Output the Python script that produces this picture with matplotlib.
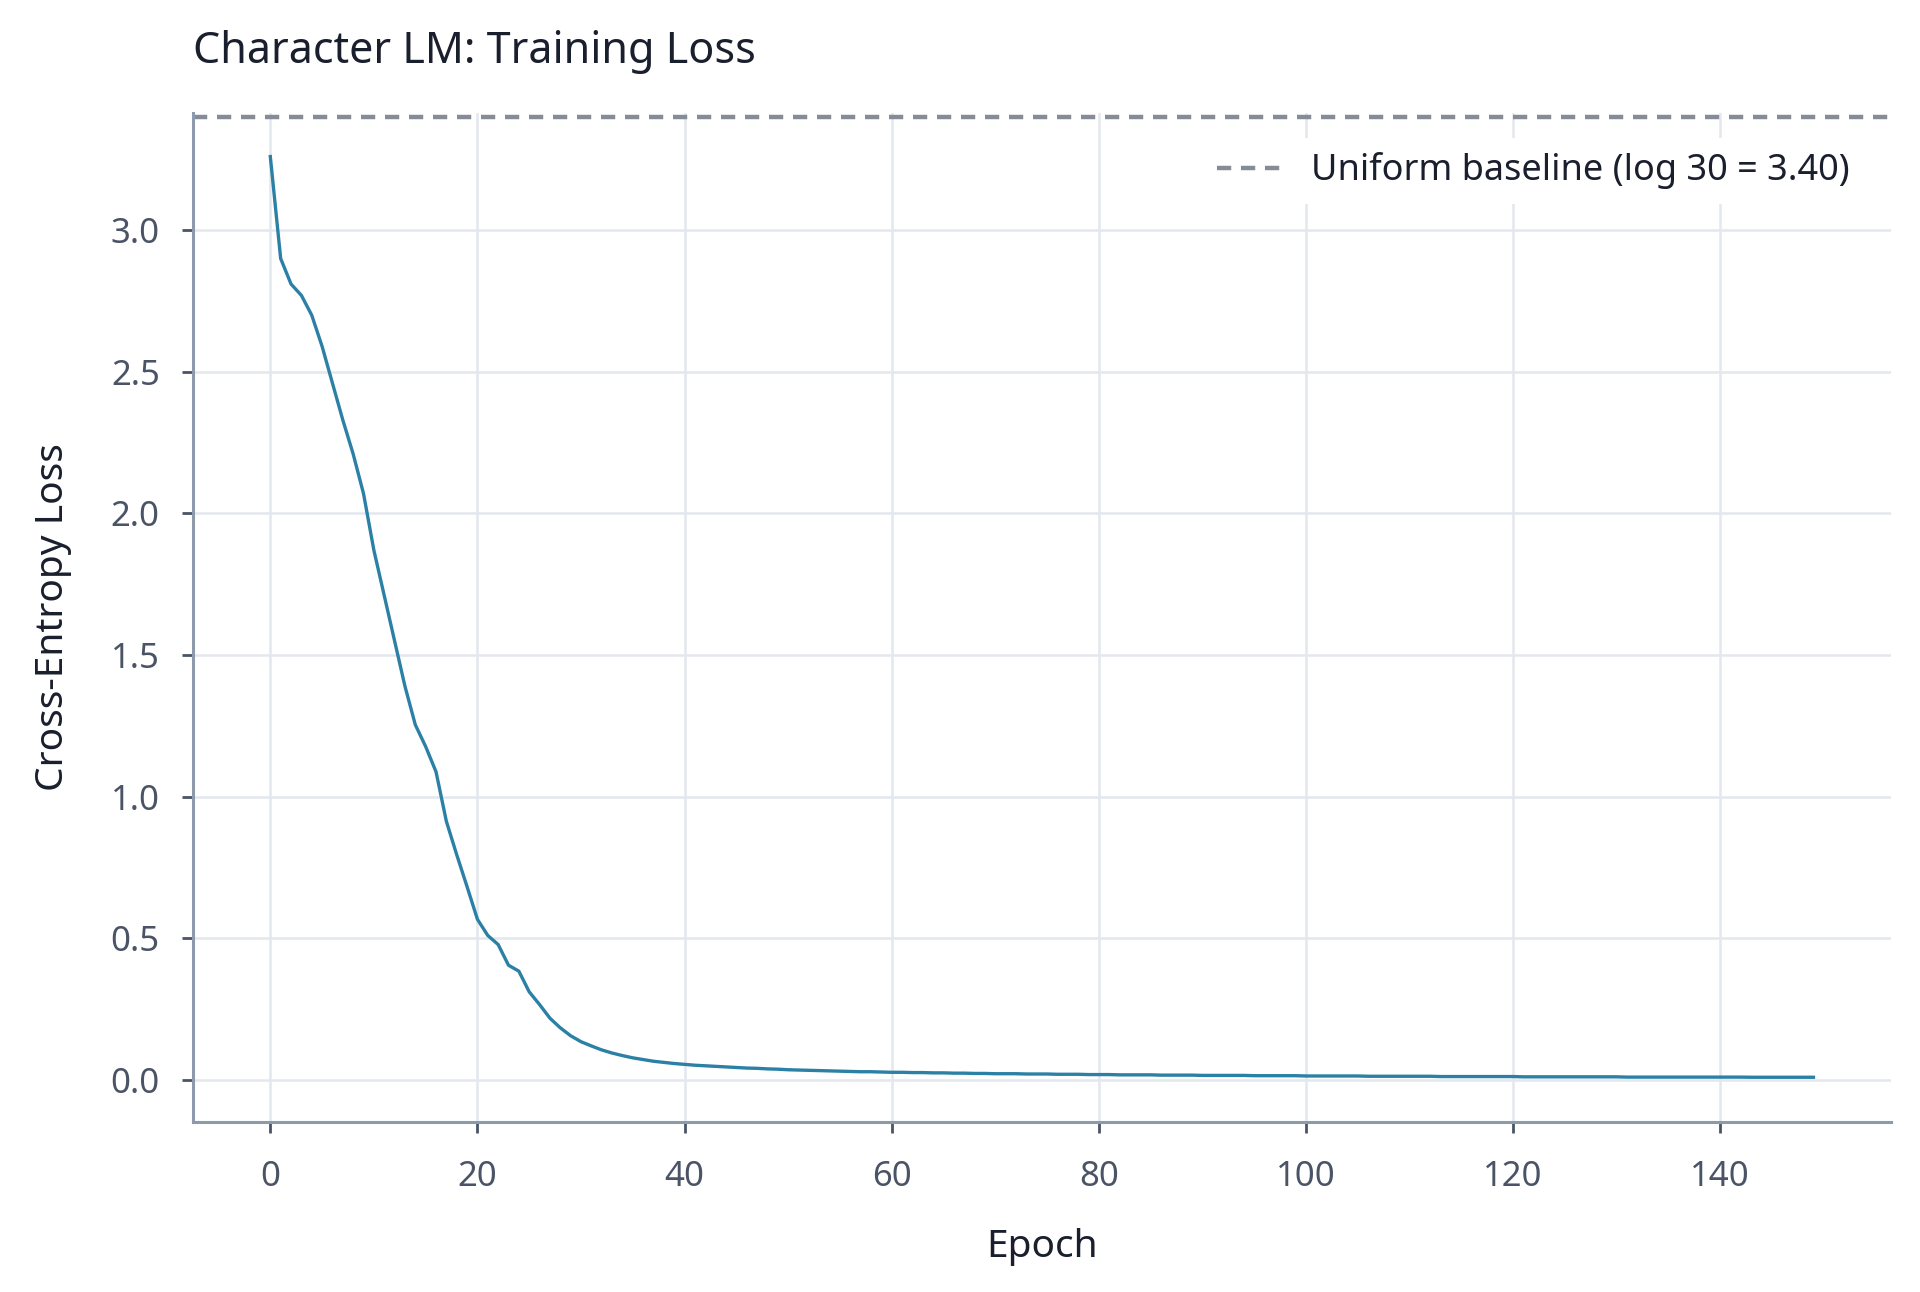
import numpy as np
import matplotlib
matplotlib.use('Agg')
import matplotlib.pyplot as plt

plt.rcParams['font.family'] = ['Noto Sans', 'DejaVu Sans']

# loss per epoch
loss_0_19 = [3.26, 2.90, 2.81, 2.77, 2.70, 2.59, 2.46, 2.33, 2.21, 2.07,
             1.87, 1.71, 1.55, 1.39, 1.254, 1.177, 1.088, 0.913, 0.795, 0.682]
loss_20_39 = [0.567, 0.510, 0.478, 0.405, 0.384, 0.311, 0.266, 0.218, 0.184, 0.156,
              0.135, 0.120, 0.106, 0.095, 0.086, 0.078, 0.072, 0.066, 0.062, 0.058]
loss_40_69 = [0.055, 0.052, 0.050, 0.048, 0.046, 0.044, 0.042, 0.041, 0.039, 0.038,
              0.036, 0.035, 0.034, 0.033, 0.032, 0.031, 0.030, 0.029, 0.029, 0.028,
              0.027, 0.027, 0.026, 0.026, 0.025, 0.025, 0.024, 0.024, 0.023, 0.023]
loss_70_109 = [0.022, 0.022, 0.022, 0.021, 0.021, 0.021, 0.020, 0.020, 0.020, 0.019,
               0.019, 0.019, 0.018, 0.018, 0.018, 0.018, 0.017, 0.017, 0.017, 0.017,
               0.016, 0.016, 0.016, 0.016, 0.016, 0.015, 0.015, 0.015, 0.015, 0.015,
               0.014, 0.014, 0.014, 0.014, 0.014, 0.014, 0.013, 0.013, 0.013, 0.013]
loss_110_149 = [0.013, 0.013, 0.013, 0.012, 0.012, 0.012, 0.012, 0.012, 0.012, 0.012,
                0.012, 0.011, 0.011, 0.011, 0.011, 0.011, 0.011, 0.011, 0.011, 0.011,
                0.011, 0.010, 0.010, 0.010, 0.010, 0.010, 0.010, 0.010, 0.010, 0.010,
                0.010, 0.010, 0.010, 0.0095, 0.0095, 0.0095, 0.0095, 0.0095, 0.0095, 0.0095]
loss = loss_0_19 + loss_20_39 + loss_40_69 + loss_70_109 + loss_110_149
epochs = np.arange(len(loss))
baseline = np.log(30)

fig = plt.figure(figsize=(9.6, 6.46), dpi=200)
ax = fig.add_axes([0.1006, 0.1319, 0.8841, 0.7809])

ax.plot(epochs, loss, color='#2b80a5', linewidth=1.2)
ax.axhline(baseline, color='#868b98', linestyle='--', linewidth=1.6, dashes=(3.2, 2.2),
           label='Uniform baseline (log 30 = 3.40)')

ax.set_ylim(-0.147, 3.415)
ax.set_yticks([0.0, 0.5, 1.0, 1.5, 2.0, 2.5, 3.0])
ax.set_xticks([0, 20, 40, 60, 80, 100, 120, 140])

ax.grid(True, color='#e3e8ee', linewidth=0.9)
ax.set_axisbelow(True)
for s in ['top', 'right']:
    ax.spines[s].set_visible(False)
for s in ['left', 'bottom']:
    ax.spines[s].set_color('#8d9aab')
    ax.spines[s].set_linewidth(1.1)
ax.tick_params(colors='#4a5466', labelcolor='#4a5466', labelsize=12.5, length=4, width=1, pad=8)
ax.tick_params(axis='x', pad=10)

ax.set_title('Character LM: Training Loss', loc='left', fontsize=15.5, color='#1a1f2e', pad=18)
ax.set_xlabel('Epoch', fontsize=14, color='#1a1f2e', labelpad=12)
ax.set_ylabel('Cross-Entropy Loss', fontsize=14, color='#1a1f2e', labelpad=14)

leg = ax.legend(loc='upper right', fontsize=13, frameon=True, facecolor='white',
                edgecolor='none', framealpha=1, bbox_to_anchor=(0.995, 0.993),
                handlelength=2.0, handletextpad=0.6)
for t in leg.get_texts():
    t.set_color('#1a1f2e')

fig.savefig('out.png', dpi=200, facecolor='white')
